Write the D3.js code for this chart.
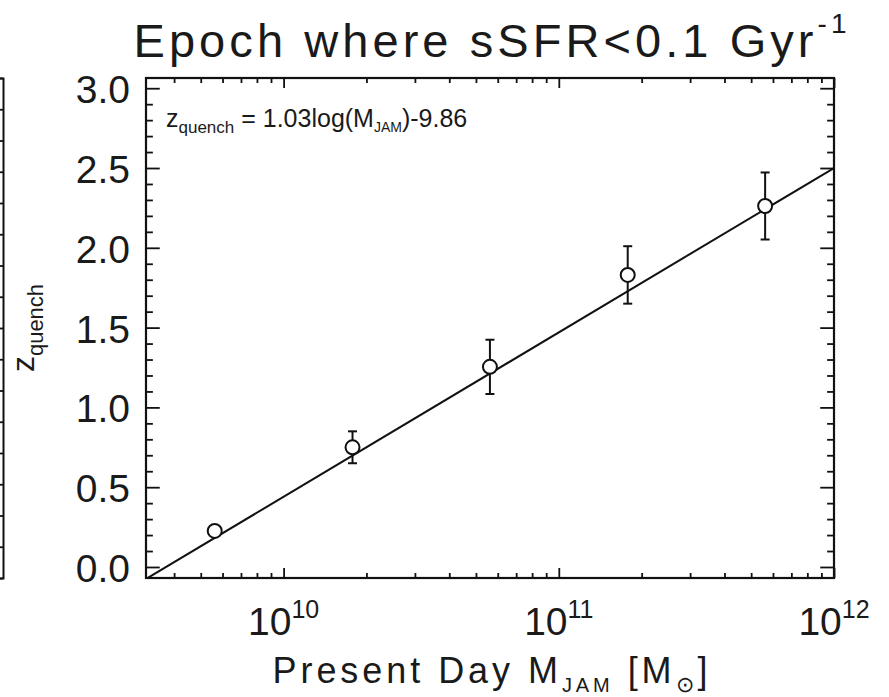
<!DOCTYPE html>
<html>
<head>
<meta charset="utf-8">
<script src="https://cdn.jsdelivr.net/npm/d3@7"></script>
<style>
  html, body { margin: 0; padding: 0; background: #fff; }
  svg { display: block; }
  text { font-family: "Liberation Sans", Arial, Helvetica, sans-serif; fill: #1a1a1a; }
</style>
</head>
<body>
<svg id="chart" width="889" height="697"></svg>
<script>
// Present-day dynamical (JAM) mass bins, in solar masses
const massJAM = [5.62e9, 1.78e10, 5.62e10, 1.78e11, 5.62e11];
// Redshift at which the specific star-formation rate falls below 0.1 Gyr^-1
const zQuench = [0.226, 0.75, 1.254, 1.83, 2.262];
const zQuenchErr = [0.03, 0.10, 0.17, 0.18, 0.21];

// Linear fit: z_quench = fitSlope * log10(M_JAM) + fitIntercept
const fitSlope = 1.03;
const fitIntercept = -9.86;

// Axis ranges and tick labels
const massRange = [Math.pow(10, 9.5), 1e12];
const zRange = [-0.069, 3.064];
const massMajorTicks = [1e10, 1e11, 1e12];
const massTickExponents = ["10", "11", "12"];
const zMajorTicks = [0.0, 0.5, 1.0, 1.5, 2.0, 2.5, 3.0];
const zTickLabels = ["0.0", "0.5", "1.0", "1.5", "2.0", "2.5", "3.0"];
const zMinorStep = 0.1;

const W = 889, H = 697;
const frame = { left: 146, top: 78, right: 834, bottom: 578 };
const ink = "#111";

const svg = d3.select("#chart");

const x = d3.scaleLog().domain(massRange).range([frame.left, frame.right]);
const y = d3.scaleLinear().domain(zRange).range([frame.bottom, frame.top]);

// IDL-style tick lengths: 2% of the plot extent, minors at half length
const yMajorLen = 0.02 * (frame.right - frame.left);
const xMajorLen = 0.02 * (frame.bottom - frame.top);

const xAll = x.ticks();
const xMinor = xAll.filter(v => !massMajorTicks.some(m => Math.abs(m - v) / m < 1e-6));
const zMinor = d3.range(0, zRange[1], zMinorStep).filter(v => !zMajorTicks.some(m => Math.abs(m - v) < 1e-6));

function styleAxis(g) {
  g.select(".domain").remove();
  g.selectAll("line").attr("stroke", ink).attr("stroke-width", 1.8);
  g.selectAll("text").remove();
}

// bottom and top axes (ticks point into the plot)
[[xMinor, xMajorLen / 2], [massMajorTicks, xMajorLen]].forEach(([vals, len]) => {
  svg.append("g").attr("transform", `translate(0,${frame.bottom})`)
    .call(d3.axisTop(x).tickValues(vals).tickSize(len).tickFormat(""))
    .call(styleAxis);
  svg.append("g").attr("transform", `translate(0,${frame.top})`)
    .call(d3.axisBottom(x).tickValues(vals).tickSize(len).tickFormat(""))
    .call(styleAxis);
});

// left and right axes
[[zMinor, yMajorLen / 2], [zMajorTicks, yMajorLen]].forEach(([vals, len]) => {
  svg.append("g").attr("transform", `translate(${frame.left},0)`)
    .call(d3.axisRight(y).tickValues(vals).tickSize(len).tickFormat(""))
    .call(styleAxis);
  svg.append("g").attr("transform", `translate(${frame.right},0)`)
    .call(d3.axisLeft(y).tickValues(vals).tickSize(len).tickFormat(""))
    .call(styleAxis);
});

// plot frame
svg.append("rect")
  .attr("x", frame.left).attr("y", frame.top)
  .attr("width", frame.right - frame.left).attr("height", frame.bottom - frame.top)
  .attr("fill", "none").attr("stroke", ink).attr("stroke-width", 2.2);

// y tick labels
svg.append("g").selectAll("text").data(zMajorTicks).join("text")
  .attr("x", frame.left - 16)
  .attr("y", d => y(d) + 15)
  .attr("text-anchor", "end")
  .attr("font-size", 39)
  .text((d, i) => zTickLabels[i]);

// x tick labels: 10^n
const xl = svg.append("g").selectAll("text").data(massMajorTicks).join("text")
  .attr("x", d => x(d))
  .attr("y", frame.bottom + 57)
  .attr("text-anchor", "middle")
  .attr("font-size", 39);
xl.append("tspan").text("10");
xl.append("tspan").attr("font-size", 25).attr("dy", -17).text((d, i) => massTickExponents[i]);

// clip region for the fit line
svg.append("clipPath").attr("id", "plotClip").append("rect")
  .attr("x", frame.left).attr("y", frame.top)
  .attr("width", frame.right - frame.left).attr("height", frame.bottom - frame.top);

// fit line
const fitLine = d3.line()
  .x(d => x(d))
  .y(d => y(fitSlope * Math.log10(d) + fitIntercept));
svg.append("path")
  .datum(massRange)
  .attr("clip-path", "url(#plotClip)")
  .attr("d", fitLine)
  .attr("fill", "none").attr("stroke", ink).attr("stroke-width", 2);

// error bars
const pts = massJAM.map((m, i) => ({ m, z: zQuench[i], e: zQuenchErr[i] }));
const eb = svg.append("g").attr("stroke", ink).attr("stroke-width", 2);
eb.selectAll("line.v").data(pts).join("line").attr("class", "v")
  .attr("x1", d => x(d.m)).attr("x2", d => x(d.m))
  .attr("y1", d => y(d.z - d.e)).attr("y2", d => y(d.z + d.e));
const capW = 4.5;
eb.selectAll("line.t").data(pts).join("line").attr("class", "t")
  .attr("x1", d => x(d.m) - capW).attr("x2", d => x(d.m) + capW)
  .attr("y1", d => y(d.z + d.e)).attr("y2", d => y(d.z + d.e));
eb.selectAll("line.b").data(pts).join("line").attr("class", "b")
  .attr("x1", d => x(d.m) - capW).attr("x2", d => x(d.m) + capW)
  .attr("y1", d => y(d.z - d.e)).attr("y2", d => y(d.z - d.e));

// open circles
svg.append("g").selectAll("circle").data(pts).join("circle")
  .attr("cx", d => x(d.m)).attr("cy", d => y(d.z)).attr("r", 7)
  .attr("fill", "#fff").attr("stroke", ink).attr("stroke-width", 2);

// fit equation
const eq = svg.append("text")
  .attr("x", frame.left + 20).attr("y", 127)
  .attr("font-size", 25);
eq.append("tspan").text("z");
eq.append("tspan").attr("font-size", 17).attr("dy", 6).text("quench");
eq.append("tspan").attr("dy", -6).text("  =  1.03log(M");
eq.append("tspan").attr("font-size", 14).attr("dy", 5).text("JAM");
eq.append("tspan").attr("dy", -5).text(")-9.86");

// title
const cx = (frame.left + frame.right) / 2;
const title = svg.append("text")
  .attr("x", cx).attr("y", 57)
  .attr("text-anchor", "middle")
  .attr("font-size", 47)
  .attr("textLength", 713).attr("lengthAdjust", "spacing");
title.append("tspan").text("Epoch where sSFR<0.1 Gyr");
title.append("tspan").attr("font-size", 28).attr("dy", -24).text("-1");

// x axis title
const xt = svg.append("text")
  .attr("x", cx).attr("y", 683)
  .attr("text-anchor", "middle")
  .attr("font-size", 36)
  .attr("textLength", 435).attr("lengthAdjust", "spacing");
xt.append("tspan").text("Present Day M");
xt.append("tspan").attr("font-size", 20).attr("dy", 9).text("JAM");
xt.append("tspan").attr("dy", -9).text(" [M");
xt.append("tspan").attr("font-size", 22).attr("dy", 9).text("\u2299");
xt.append("tspan").attr("dy", -9).text("]");

// y axis title
const yt = svg.append("text")
  .attr("transform", `translate(34,${(frame.top + frame.bottom) / 2}) rotate(-90)`)
  .attr("text-anchor", "middle")
  .attr("font-size", 32);
yt.append("tspan").text("z");
yt.append("tspan").attr("font-size", 22).attr("dy", 9).text("quench");

// right edge of the neighbouring panel
const yNeighbour = d3.scaleLinear().domain([0, 16]).range([frame.bottom, frame.top]);
svg.append("g").attr("transform", "translate(3,0)")
  .call(d3.axisLeft(yNeighbour).ticks(16).tickSize(12).tickFormat(""))
  .call(g => g.selectAll("line").attr("stroke", ink).attr("stroke-width", 1.8))
  .call(g => g.select(".domain").attr("stroke", ink).attr("stroke-width", 2));
</script>
</body>
</html>
